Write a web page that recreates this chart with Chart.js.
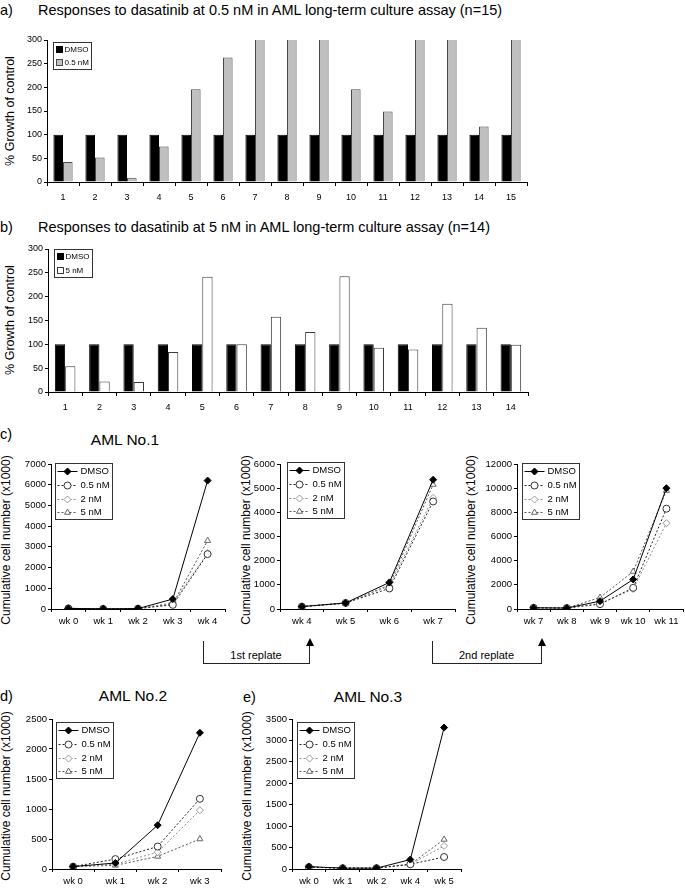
<!DOCTYPE html>
<html>
<head>
<meta charset="utf-8">
<script src="https://cdn.jsdelivr.net/npm/chart.js@4.4.1/dist/chart.umd.min.js"></script>
<style>
  html, body { margin: 0; padding: 0; background: #fff; overflow: hidden; }
  body { width: 685px; height: 889px; position: relative; font-family: "Liberation Sans", Arial, sans-serif; color: #000; }
  canvas { position: absolute; }
  .t { position: absolute; white-space: nowrap; line-height: 1; }
  .ln { position: absolute; border: 0 solid #222; }
</style>
</head>
<body>
<script>
// ---- data ----
var patients15 = ['1', '2', '3', '4', '5', '6', '7', '8', '9', '10', '11', '12', '13', '14', '15'];
var patients14 = ['1', '2', '3', '4', '5', '6', '7', '8', '9', '10', '11', '12', '13', '14'];
var dmsoA = [100, 100, 100, 100, 100, 100, 100, 100, 100, 100, 100, 100, 100, 100, 100];
var nm05A = [42, 52, 9, 75, 196, 263, 340, 340, 340, 196, 149, 340, 340, 117, 340];
var dmsoB = [100, 100, 100, 100, 100, 100, 100, 100, 100, 100, 100, 100, 100, 100];
var nm5B = [54, 22, 21, 84, 242, 100, 158, 126, 243, 93, 89, 185, 135, 99];

var c1Weeks = ['wk 0', 'wk 1', 'wk 2', 'wk 3', 'wk 4'];
var c1Dmso = [30, 10, 20, 480, 6200];
var c1Nm05 = [30, 10, 20, 200, 2650];
var c1Nm2 = [30, 10, 20, 300, 2700];
var c1Nm5 = [30, 10, 20, 250, 3300];

var c2Weeks = ['wk 4', 'wk 5', 'wk 6', 'wk 7'];
var c2Dmso = [100, 250, 1100, 5350];
var c2Nm05 = [100, 250, 850, 4450];
var c2Nm2 = [100, 250, 950, 4600];
var c2Nm5 = [100, 230, 1000, 5150];

var c3Weeks = ['wk 7', 'wk 8', 'wk 9', 'wk 10', 'wk 11'];
var c3Dmso = [100, 80, 650, 2450, 10000];
var c3Nm05 = [100, 80, 400, 1750, 8300];
var c3Nm2 = [100, 80, 450, 1650, 7100];
var c3Nm5 = [100, 80, 950, 3100, 9800];

var dWeeks = ['wk 0', 'wk 1', 'wk 2', 'wk 3'];
var dDmso = [40, 100, 730, 2270];
var dNm05 = [40, 165, 375, 1170];
var dNm2 = [40, 80, 280, 980];
var dNm5 = [40, 60, 210, 500];

var eWeeks = ['wk 0', 'wk 1', 'wk 2', 'wk 4', 'wk 5'];
var eDmso = [55, 20, 20, 220, 3300];
var eNm05 = [45, 20, 20, 110, 280];
var eNm2 = [45, 20, 20, 110, 540];
var eNm5 = [45, 20, 20, 110, 690];

var FONT = '"Liberation Sans", Arial, sans-serif';

// ---- html text helpers ----
function text(str, x, y, size, center) {
  var d = document.createElement('div');
  d.className = 't';
  d.textContent = str;
  d.style.left = x + 'px';
  d.style.top = y + 'px';
  d.style.fontSize = size + 'px';
  d.style.transform = center ? 'translate(-50%,-50%)' : 'translate(0,-50%)';
  document.body.appendChild(d);
}
function vtext(str, x, y, size) {
  var d = document.createElement('div');
  d.className = 't';
  d.textContent = str;
  d.style.left = x + 'px';
  d.style.top = y + 'px';
  d.style.fontSize = size + 'px';
  d.style.transform = 'translate(-50%,-50%) rotate(-90deg)';
  document.body.appendChild(d);
}
function line(x, y, w, h, side) {
  var d = document.createElement('div');
  d.className = 'ln';
  d.style.left = x + 'px';
  d.style.top = y + 'px';
  d.style.width = w + 'px';
  d.style.height = h + 'px';
  d.style['border' + side + 'Width'] = '1px';
  document.body.appendChild(d);
}
function replate(label, x1, x2) {
  line(x1, 641, 0, 22, 'Left');
  line(x1, 663, x2 - x1, 0, 'Top');
  line(x2, 645, 0, 19, 'Left');
  var a = document.createElement('div');
  a.style.cssText = 'position:absolute;width:0;height:0;border-left:4px solid transparent;border-right:4px solid transparent;border-bottom:8px solid #000;';
  a.style.left = (x2 - 3.5) + 'px';
  a.style.top = '638px';
  document.body.appendChild(a);
  text(label, (x1 + x2) / 2, 655, 11, true);
}

// ---- legend inside plot with a border ----
var drawMarker = function (ctx, style, r, x, y) {
  if (Chart.helpers && Chart.helpers.drawPoint) {
    Chart.helpers.drawPoint(ctx, {pointStyle: style, radius: r, rotation: 0, borderWidth: 1}, x, y);
    return;
  }
  ctx.beginPath();
  ctx.arc(x, y, r, 0, Math.PI * 2);
  ctx.fill();
  ctx.stroke();
};

var boxLegend = {
  id: 'boxLegend',
  afterDraw: function (chart, args, o) {
    var ctx = chart.ctx, area = chart.chartArea, sets = chart.data.datasets;
    ctx.save();
    ctx.font = o.size + 'px ' + FONT;
    var tw = 0;
    sets.forEach(function (ds) { tw = Math.max(tw, ctx.measureText(ds.label).width); });
    var x0 = Math.round(area.left + o.dx) + 0.5;
    var y0 = Math.round(area.top + o.dy) + 0.5;
    var w = Math.round(o.pad + o.sampleW + o.gap + tw + o.pad + 1);
    var h = Math.round(o.padTop * 2 + o.rowH * sets.length);
    ctx.fillStyle = '#fff';
    ctx.fillRect(x0, y0, w, h);
    ctx.lineWidth = 1;
    ctx.strokeStyle = '#333';
    ctx.strokeRect(x0, y0, w, h);
    sets.forEach(function (ds, i) {
      var cy = y0 + o.padTop + o.rowH * (i + 0.5);
      var sx = x0 + o.pad;
      if (o.kind === 'bar') {
        var s = o.sampleW;
        ctx.fillStyle = ds.backgroundColor;
        ctx.fillRect(Math.round(sx), Math.round(cy - s / 2), s, s);
        ctx.strokeStyle = ds.borderColor;
        ctx.strokeRect(Math.round(sx) + 0.5, Math.round(cy - s / 2) + 0.5, s - 1, s - 1);
      } else {
        var ly = Math.round(cy) + 0.5;
        ctx.strokeStyle = ds.borderColor;
        ctx.setLineDash(ds.borderDash || []);
        ctx.beginPath();
        ctx.moveTo(sx, ly);
        ctx.lineTo(sx + o.sampleW, ly);
        ctx.stroke();
        ctx.setLineDash([]);
        ctx.fillStyle = ds.pointBackgroundColor;
        ctx.strokeStyle = ds.pointBorderColor;
        drawMarker(ctx, ds.pointStyle, ds.pointRadius, sx + o.sampleW / 2, ly);
      }
      ctx.fillStyle = '#000';
      ctx.textAlign = 'left';
      ctx.textBaseline = 'middle';
      ctx.fillText(ds.label, sx + o.sampleW + o.gap, cy + 0.5);
    });
    ctx.restore();
  }
};

// ---- chart builder ----
function makeChart(g, type, labels, datasets, legend) {
  var yW = 45, xH = 26;
  var L = g.axisX - yW, T = g.top - 8;
  var W = g.right + 4 - L, H = g.bottom - T + xH;
  var c = document.createElement('canvas');
  c.width = W;
  c.height = H;
  c.style.left = L + 'px';
  c.style.top = T + 'px';
  c.style.width = W + 'px';
  c.style.height = H + 'px';
  document.body.appendChild(c);
  return new Chart(c, {
    type: type,
    plugins: [boxLegend],
    data: { labels: labels, datasets: datasets },
    options: {
      responsive: false,
      animation: false,
      devicePixelRatio: 1,
      events: [],
      layout: { padding: { left: 0, top: 8, right: 4, bottom: 0 } },
      plugins: {
        legend: { display: false },
        tooltip: { enabled: false },
        boxLegend: legend
      },
      scales: {
        x: {
          type: 'category',
          offset: true,
          afterFit: function (s) { s.height = xH; },
          ticks: { color: '#000', font: { family: FONT, size: g.xFont }, padding: g.xPad, maxRotation: 0, autoSkip: false },
          grid: { offset: true, drawOnChartArea: false, drawTicks: true, tickLength: g.xTick, color: '#000' },
          border: { display: true, color: '#000', width: 1 }
        },
        y: {
          min: 0,
          max: g.max,
          afterFit: function (s) { s.width = yW; },
          ticks: {
            stepSize: g.step, color: '#000', font: { family: FONT, size: g.yFont }, padding: 2,
            callback: function (v) { return String(v); }
          },
          grid: { drawOnChartArea: false, drawTicks: true, tickLength: 3, color: '#000' },
          border: { display: true, color: '#000', width: 1 }
        }
      }
    }
  });
}

function barSets(a, b, bLabel, bFill, bBorder) {
  return [
    { label: 'DMSO', data: a, backgroundColor: '#000', borderColor: '#000', borderWidth: 1, categoryPercentage: 0.6, barPercentage: 1.0 },
    { label: bLabel, data: b, backgroundColor: bFill, borderColor: bBorder, borderWidth: 1, categoryPercentage: 0.6, barPercentage: 1.0 }
  ];
}

function lineSets(dmso, nm05, nm2, nm5) {
  return [
    { label: 'DMSO', data: dmso, borderColor: '#000', borderWidth: 1, tension: 0,
      pointStyle: 'rectRot', pointRadius: 3.5, pointBackgroundColor: '#000', pointBorderColor: '#000', pointBorderWidth: 1 },
    { label: '0.5 nM', data: nm05, borderColor: '#222', borderWidth: 1, borderDash: [2, 2], tension: 0,
      pointStyle: 'circle', pointRadius: 3.5, pointBackgroundColor: '#fff', pointBorderColor: '#333', pointBorderWidth: 1 },
    { label: '2 nM', data: nm2, borderColor: '#8c8c8c', borderWidth: 1, borderDash: [2, 2], tension: 0,
      pointStyle: 'rectRot', pointRadius: 3.5, pointBackgroundColor: '#fff', pointBorderColor: '#999', pointBorderWidth: 1 },
    { label: '5 nM', data: nm5, borderColor: '#555', borderWidth: 1, borderDash: [2, 2], tension: 0,
      pointStyle: 'triangle', pointRadius: 3.5, pointBackgroundColor: '#fff', pointBorderColor: '#666', pointBorderWidth: 1 }
  ];
}

function barLegend(dx, dy, rowH) {
  return { kind: 'bar', dx: dx, dy: dy, rowH: rowH, padTop: 0.5, pad: 2, sampleW: 7, gap: 2, size: 8 };
}
function lineLegend(dx, dy) {
  return { kind: 'line', dx: dx, dy: dy, rowH: 13.8, padTop: 0.5, pad: 2, sampleW: 20, gap: 3, size: 9.5 };
}

// ---- panel a ----
text('a)', 0, 10, 14.5);
text('Responses to dasatinib at 0.5 nM in AML long-term culture assay (n=15)', 38, 10, 14.5);
vtext('% Growth of control', 10, 111, 12.5);
makeChart({ axisX: 47, right: 527, top: 40, bottom: 182, max: 300, step: 50, xFont: 9, xPad: 6, xTick: 4, yFont: 9 },
  'bar', patients15, barSets(dmsoA, nm05A, '0.5 nM', '#c0c0c0', '#4a4a4a'), barLegend(6, 2, 12.8));

// ---- panel b ----
text('b)', 0, 227, 14.5);
text('Responses to dasatinib at 5 nM in AML long-term culture assay (n=14)', 38, 227, 14.5);
vtext('% Growth of control', 10, 320, 12.5);
makeChart({ axisX: 48, right: 528, top: 249, bottom: 392, max: 300, step: 50, xFont: 9, xPad: 6, xTick: 4, yFont: 9 },
  'bar', patients14, barSets(dmsoB, nm5B, '5 nM', '#fff', '#3a3a3a'), barLegend(6, 0, 13.4));

// ---- panel c ----
text('c)', 0, 434, 14.5);
text('AML No.1', 125, 440, 15.5, true);
vtext('Cumulative cell number (x1000)', 6, 540, 12);
makeChart({ axisX: 51, right: 226, top: 464, bottom: 609, max: 7000, step: 1000, xFont: 9.5, xPad: 4, xTick: 3, yFont: 9.5 },
  'line', c1Weeks, lineSets(c1Dmso, c1Nm05, c1Nm2, c1Nm5), lineLegend(4, -1));
vtext('Cumulative cell number (x1000)', 246, 540, 12);
makeChart({ axisX: 280, right: 456, top: 464, bottom: 609, max: 6000, step: 1000, xFont: 9.5, xPad: 4, xTick: 3, yFont: 9.5 },
  'line', c2Weeks, lineSets(c2Dmso, c2Nm05, c2Nm2, c2Nm5), lineLegend(7, -2));
vtext('Cumulative cell number (x1000)', 471, 540, 12);
makeChart({ axisX: 517, right: 684, top: 464, bottom: 609, max: 12000, step: 2000, xFont: 9.5, xPad: 4, xTick: 3, yFont: 9.5 },
  'line', c3Weeks, lineSets(c3Dmso, c3Nm05, c3Nm2, c3Nm5), lineLegend(5, -1));

replate('1st replate', 203, 309);
replate('2nd replate', 432, 541);

// ---- panel d ----
text('d)', 0, 696, 14.5);
text('AML No.2', 133, 696, 15.5, true);
vtext('Cumulative cell number (x1000)', 6, 796, 12);
makeChart({ axisX: 52, right: 222, top: 719, bottom: 869, max: 2500, step: 500, xFont: 9.5, xPad: 4, xTick: 3, yFont: 9.5 },
  'line', dWeeks, lineSets(dDmso, dNm05, dNm2, dNm5), lineLegend(4, 3));

// ---- panel e ----
text('e)', 243, 697, 14.5);
text('AML No.3', 368, 697, 15.5, true);
vtext('Cumulative cell number (x1000)', 247, 796, 12);
makeChart({ axisX: 292, right: 462, top: 719, bottom: 869, max: 3500, step: 500, xFont: 9.5, xPad: 4, xTick: 3, yFont: 9.5 },
  'line', eWeeks, lineSets(eDmso, eNm05, eNm2, eNm5), lineLegend(5, 3));
</script>
</body>
</html>
